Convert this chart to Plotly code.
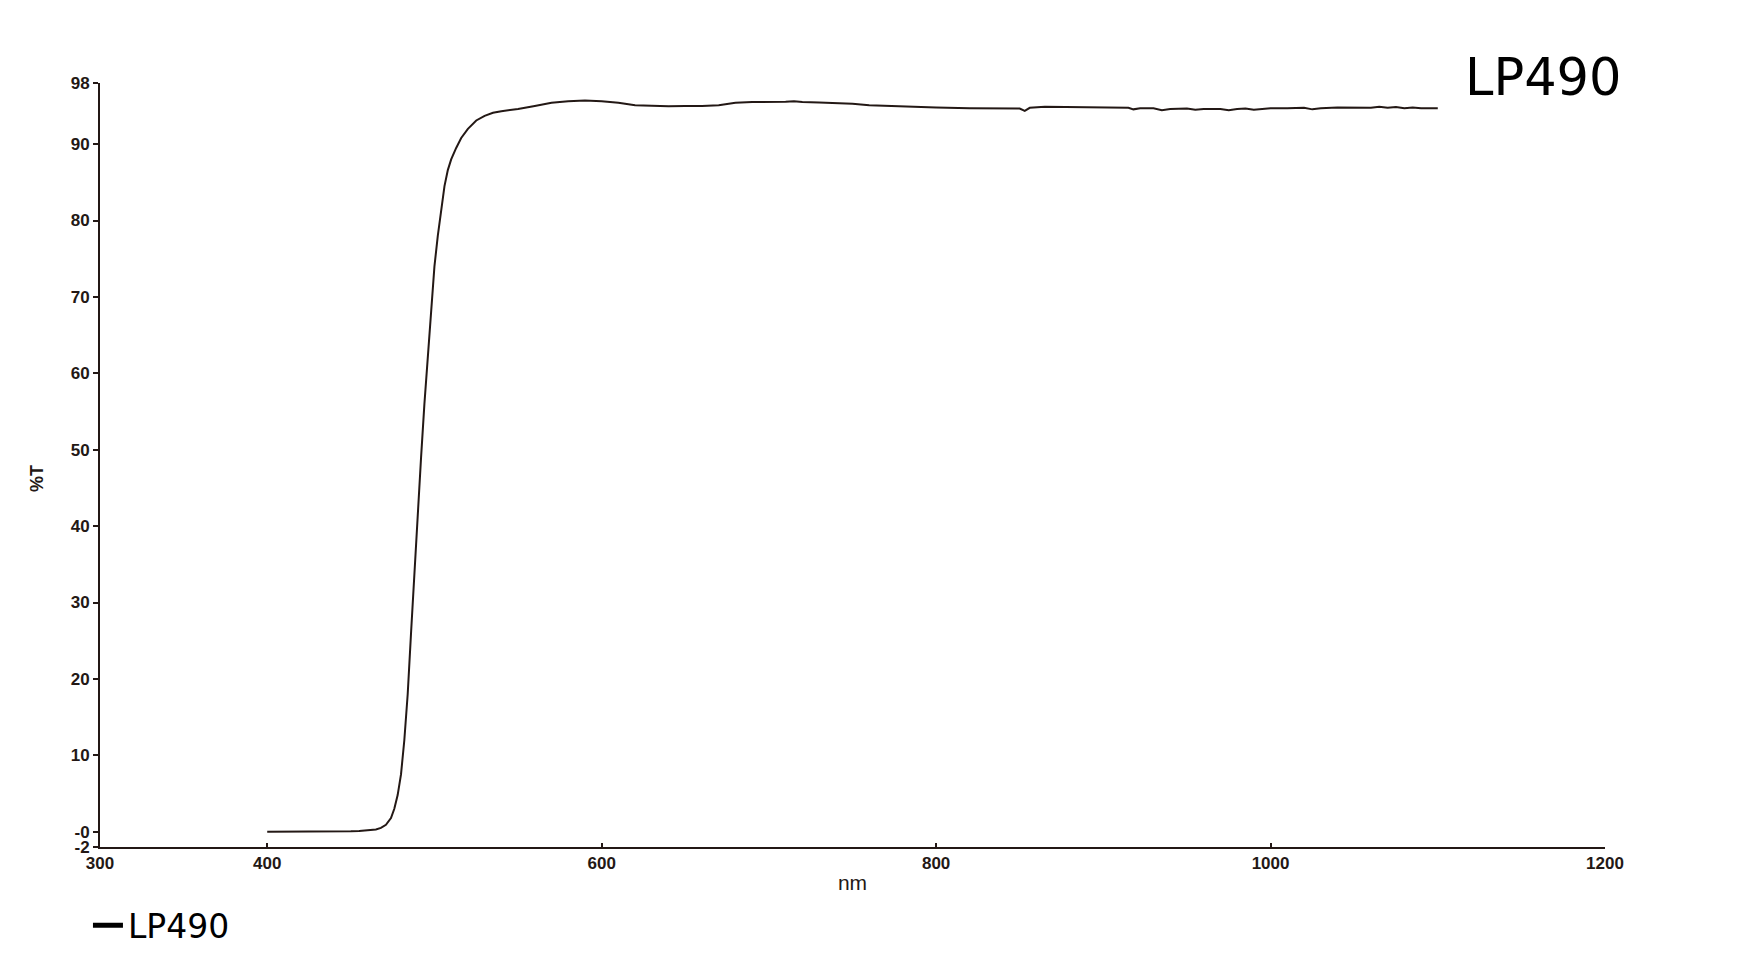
import plotly.graph_objects as go

# transmission curve of the LP490 long-pass filter
wavelength = [
    400, 420, 440, 450, 455, 460, 465, 468, 471, 474, 476, 478, 480, 482, 484,
    486, 488, 490, 492, 494, 496, 498, 500, 502, 504, 506, 508, 510, 513, 516,
    520, 525, 530, 535, 540, 550, 560, 570, 580, 590, 600, 610, 620, 630, 640,
    650, 660, 670, 680, 690, 700, 710, 715, 720, 730, 740, 750, 760, 770, 780,
    790, 800, 820, 840, 850, 853, 856, 865, 880, 890, 900, 915, 918, 922, 930,
    935, 940, 950, 955, 960, 970, 975, 980, 985, 990, 1000, 1010, 1020, 1025,
    1030, 1040, 1050, 1060, 1065, 1070, 1075, 1080, 1085, 1090, 1100,
]
transmission = [
    0.0, 0.0, 0.0, 0.05, 0.1, 0.15, 0.3, 0.5, 0.9, 1.8, 3.0, 4.8, 7.5, 12, 18,
    26, 34, 41, 49, 56, 62, 68, 74, 78, 81.5, 84.5, 86.6, 88, 89.5, 90.8,
    92, 93.1, 93.7, 94.1, 94.3, 94.6, 95.0, 95.4, 95.6, 95.7, 95.6, 95.4, 95.1, 95.0, 94.95,
    95.0, 95.0, 95.1, 95.4, 95.5, 95.5, 95.55, 95.6, 95.5, 95.45, 95.4, 95.3, 95.1, 95.0, 94.9,
    94.85, 94.8, 94.7, 94.7, 94.65, 94.35, 94.75, 94.9, 94.85, 94.75, 94.75, 94.75, 94.55, 94.7, 94.7,
    94.45, 94.6, 94.65, 94.5, 94.6, 94.6, 94.45, 94.6, 94.65, 94.5, 94.7, 94.7, 94.75, 94.55,
    94.7, 94.8, 94.8, 94.75, 94.9, 94.75, 94.85, 94.7, 94.8, 94.7, 94.7,
]

x_ticks = [300, 400, 600, 800, 1000, 1200]
y_ticks = [-2, 0, 10, 20, 30, 40, 50, 60, 70, 80, 90, 98]
y_labels = ["-2", "-0", "10", "20", "30", "40", "50", "60", "70", "80", "90", "98"]

ink = "#231815"
tick_font = dict(family="Liberation Sans Narrow, Liberation Sans, Arial", size=17,
                 color=ink, weight="bold")

fig = go.Figure()
fig.add_trace(go.Scatter(
    x=wavelength, y=transmission, mode="lines",
    line=dict(color=ink, width=2), showlegend=False,
))
# legend entry only, drawn thicker like the reference key
fig.add_trace(go.Scatter(
    x=[None], y=[None], mode="lines",
    line=dict(color="black", width=5), name="LP490",
))

# page body adds an 8px offset, so the figure is a bit smaller than the window
fig.update_layout(
    width=1742, height=959,
    margin=dict(l=92, r=145, t=75, b=120),
    paper_bgcolor="white", plot_bgcolor="white",
    font=dict(family="Liberation Sans", color=ink),
    legend=dict(
        x=-0.008, y=-0.1025, xanchor="left", yanchor="middle",
        font=dict(family="DejaVu Sans", size=33, color="black"),
        itemwidth=30, bgcolor="rgba(0,0,0,0)",
    ),
    annotations=[
        dict(
            text="LP490", xref="paper", yref="paper", x=1.0123, y=1.007,
            xanchor="right", yanchor="middle", showarrow=False,
            font=dict(family="DejaVu Sans", size=51, color="black"),
        ),
        # y axis title, sits a little below the middle of the axis
        dict(
            text="<b>%T</b>", xref="paper", yref="paper", x=-0.0419, y=0.483,
            xanchor="center", yanchor="middle", textangle=-90, showarrow=False,
            font=dict(family="Liberation Sans", size=18, color=ink),
        ),
    ],
)
fig.update_xaxes(
    range=[300, 1200], tickvals=x_ticks, ticks="inside", ticklen=4,
    tickwidth=1.5, tickcolor=ink, showline=True, linewidth=2, linecolor=ink,
    showgrid=False, zeroline=False, tickfont=tick_font,
    title=dict(text="nm", font=dict(family="Liberation Sans", size=21, color=ink), standoff=3),
)
fig.update_yaxes(
    range=[-2, 98], tickvals=y_ticks, ticktext=y_labels, ticks="outside",
    ticklen=5, tickwidth=1.5, tickcolor=ink, showline=True, linewidth=2,
    linecolor=ink, showgrid=False, zeroline=False, tickfont=tick_font,
)

fig.write_html("out.html")
